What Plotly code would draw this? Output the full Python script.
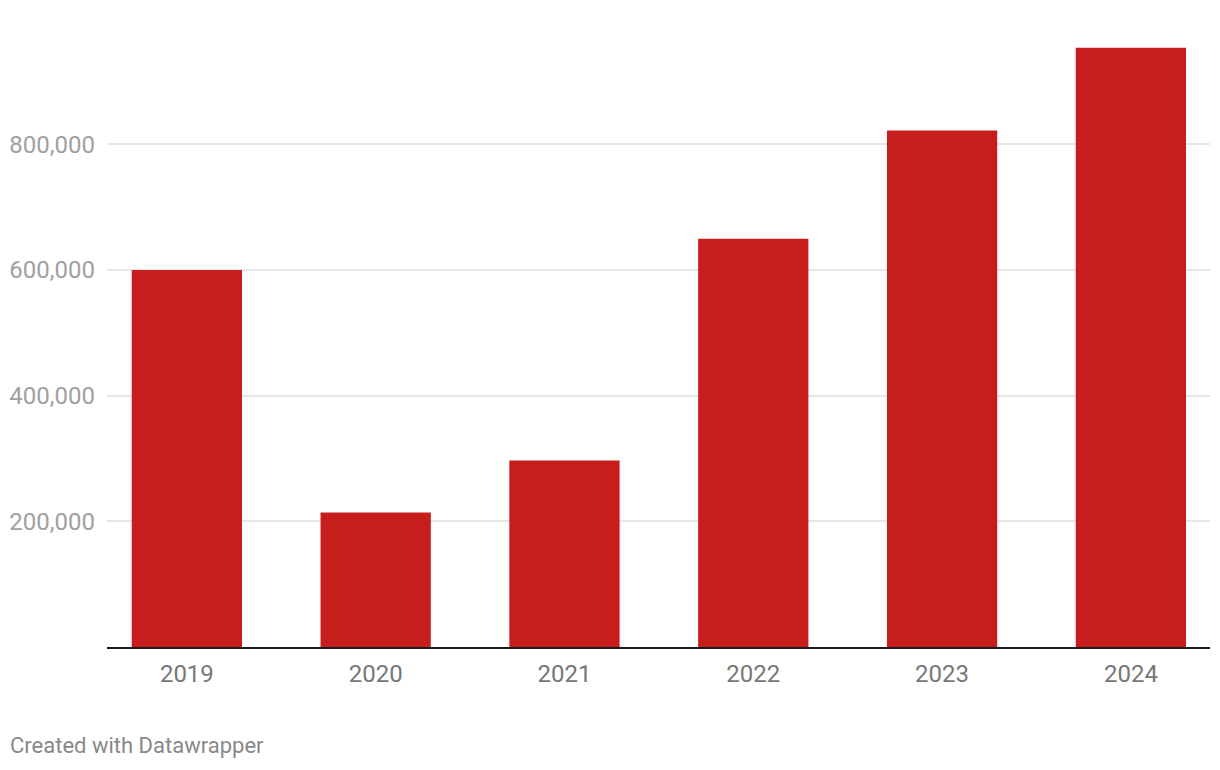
import plotly.graph_objects as go

years = ["2019", "2020", "2021", "2022", "2023", "2024"]
values = [600000, 214000, 297000, 650000, 822000, 954000]
y_ticks = [200000, 400000, 600000, 800000]
y_tick_labels = ["200,000", "400,000", "600,000", "800,000"]

positions = list(range(len(years)))

fig = go.Figure()
fig.add_trace(go.Bar(
    x=positions,
    y=values,
    width=0.584,
    marker=dict(color="#c71e1d", line=dict(width=0)),
    hoverinfo="skip",
))

fig.update_layout(
    width=1212,
    height=762,
    margin=dict(l=99, r=10, t=12, b=123, autoexpand=False),
    paper_bgcolor="white",
    plot_bgcolor="white",
    showlegend=False,
    font=dict(family="Roboto", size=24, color="#777777"),
    xaxis=dict(
        range=[-0.423, 5.419],
        tickmode="array",
        tickvals=positions,
        ticktext=years,
        showgrid=False,
        zeroline=False,
        showline=True,
        linecolor="#1a1a1a",
        linewidth=2,
        ticks="",
        automargin=False,
        tickfont=dict(family="Roboto", size=24, color="#777777"),
        ticklabelstandoff=4,
    ),
    yaxis=dict(
        range=[0, 998000],
        tickmode="array",
        tickvals=y_ticks,
        ticktext=y_tick_labels,
        showgrid=True,
        gridcolor="#e6e6e6",
        gridwidth=1.5,
        zeroline=False,
        showline=False,
        ticks="",
        automargin=False,
        tickfont=dict(family="Roboto", size=24, color="#a0a0a0"),
        ticklabelstandoff=11,
    ),
)

fig.add_annotation(
    text="Created with Datawrapper",
    xref="paper", yref="paper",
    x=0, y=0,
    xshift=-99 + 0, yshift=-123 + 10,
    xanchor="left", yanchor="bottom",
    showarrow=False,
    font=dict(family="Roboto", size=22, color="#888888"),
)

fig.write_html("out.html")
